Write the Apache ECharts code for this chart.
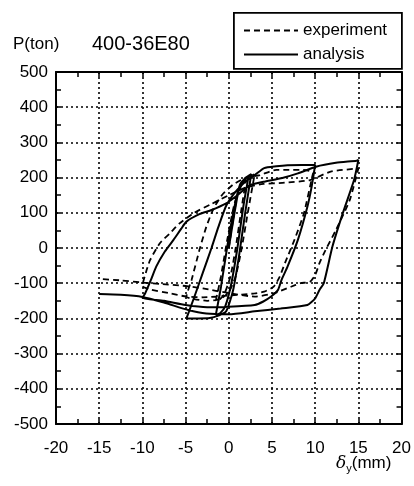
<!DOCTYPE html>
<html>
<head>
<meta charset="utf-8">
<script src="https://cdn.jsdelivr.net/npm/echarts@6/dist/echarts.min.js"></script>
<style>html,body{margin:0;padding:0;background:#fff}#c{width:414px;height:486px}</style>
</head>
<body>
<div id="c"></div>
<script>
// ---- axis ticks ----
var xTicks = [-20, -15, -10, -5, 0, 5, 10, 15, 20];
var yTicks = [-500, -400, -300, -200, -100, 0, 100, 200, 300, 400, 500];

// ---- experiment (dashed) : displacement mm / load ton ----
var expX = [0, 0.5, 1.0, 1.6, 2.0,
  1.4, 0.8, 0.2, -0.5, -1.0, -1.5,
  -0.9, -0.2, 0.6, 1.4, 2.2, 3.0,
  2.2, 1.5, 0.8, 0.0, -1.0, -2.5, -4.0, -4.9,
  -4.3, -3.4, -2.6, -1.8, -0.8, 0.5, 2.0, 3.6, 5.5, 7.0, 8.6, 9.8,
  9.7, 8.7, 7.6, 6.5, 5.9, 5.2, 4.1, 3.0, 0.0, -3.0, -4.9, -7.0, -9.0, -10.0,
  -9.6, -9.1, -8.0, -6.8, -5.7, -4.0, -2.0, 0.0, 2.0, 4.0, 6.2, 9.4, 11.8, 15.0,
  14.0, 12.4, 11.2, 10.5, 10.0, 9.4, 8.3, 7.2, 5.2, 3.0, 0.0, -3.0, -5.0, -8.0, -10.0, -12.5, -15.0];
var expY = [0, 80, 150, 185, 195,
  100, 0, -80, -130, -145, -150,
  -80, 20, 120, 180, 200, 210,
  100, 0, -80, -125, -145, -150, -145, -138,
  -90, -6, 60, 110, 150, 180, 200, 207, 222, 222, 222, 215,
  207, 99, 23, -43, -81, -110, -124, -129, -135, -140, -138, -128, -118, -108,
  -70, -34, 13, 42, 70, 100, 125, 150, 172, 182, 185, 193, 217, 226,
  136, 51, -6, -43, -77, -96, -100, -110, -129, -138, -128, -115, -108, -102, -98, -92, -88];

// ---- analysis (solid) ----
var anaX = [0, 0.6, 1.2, 1.8, 2.3,
  1.7, 1.0, 0.3, -0.4, -1.0, -1.5,
  -0.9, -0.2, 0.6, 1.3, 2.0, 2.6,
  1.9, 1.2, 0.5, -0.3, -1.2, -2.2, -3.5, -4.9,
  -4.0, -3.0, -2.0, -1.2, -0.3, 0.8, 2.0, 3.0, 4.1, 5.5, 6.8, 8.5, 10.0,
  9.6, 9.1, 8.0, 6.8, 6.1, 5.7, 4.9, 4.0, 3.0, 0.0, -2.5, -5.0, -7.5, -10.0,
  -9.7, -9.0, -8.4, -7.4, -6.4, -5.5, -4.9, -3.4, -2.0, -0.3, 1.0, 2.4, 4.0, 6.2, 8.0, 10.1, 12.4, 14.8, 15.0,
  14.5, 13.2, 12.0, 11.0, 10.5, 10.0, 9.1, 6.0, 3.0, 0.0, -2.6, -4.7, -7.5, -10.0, -12.5, -15.0];
var anaY = [0, 90, 170, 195, 205,
  120, 0, -100, -165, -185, -190,
  -110, 0, 110, 180, 200, 210,
  100, -20, -120, -180, -192, -199, -200, -200,
  -140, -70, 0, 60, 120, 160, 190, 207, 227, 232, 235, 236, 236,
  175, 117, 23, -53, -91, -119, -138, -152, -162, -167, -168, -162, -150, -142,
  -130, -90, -53, -10, 23, 55, 75, 96, 108, 127, 150, 178, 188, 199, 212, 231, 242, 248, 250,
  193, 99, 4, -100, -119, -143, -162, -172, -180, -188, -186, -176, -155, -139, -133, -131];

function pairs(xs, ys) { return xs.map(function (x, i) { return [x, ys[i]]; }); }

var chart = echarts.init(document.getElementById('c'), null, { renderer: 'canvas' });
var FONT = 'Liberation Sans, Arial, Helvetica, sans-serif';
var axisLine = { show: true, onZero: false, lineStyle: { color: '#000', width: 2 } };
var dotted = { show: true, lineStyle: { color: '#000', width: 1.6, type: [2, 3] } };
var tick = { show: true, inside: true, length: 5, lineStyle: { color: '#000', width: 1.5 } };
var minor = { show: true, splitNumber: 2, length: 5, lineStyle: { color: '#000', width: 1.5 } };

chart.setOption({
  animation: false,
  backgroundColor: '#fff',
  grid: { left: 56, top: 72, width: 346, height: 352, show: false },
  xAxis: [{
    type: 'value', min: xTicks[0], max: xTicks[xTicks.length - 1], interval: 5,
    axisLine: axisLine, axisTick: tick, minorTick: minor, splitLine: dotted,
    axisLabel: { color: '#000', fontSize: 17, fontFamily: FONT, margin: 16,
      formatter: function (v) { return xTicks.indexOf(v) >= 0 ? String(v) : ''; } }
  }, {
    type: 'value', position: 'top', min: -20, max: 20, interval: 5,
    axisLine: axisLine, axisTick: tick, minorTick: minor,
    splitLine: { show: false }, axisLabel: { show: false }
  }],
  yAxis: [{
    type: 'value', min: yTicks[0], max: yTicks[yTicks.length - 1], interval: 100,
    axisLine: axisLine, axisTick: tick, minorTick: minor, splitLine: dotted,
    axisLabel: { color: '#000', fontSize: 17, fontFamily: FONT, margin: 8,
      formatter: function (v) { return yTicks.indexOf(v) >= 0 ? String(v) : ''; } }
  }, {
    type: 'value', position: 'right', min: -500, max: 500, interval: 100,
    axisLine: axisLine, axisTick: tick, minorTick: minor,
    splitLine: { show: false }, axisLabel: { show: false }
  }],
  legend: {
    show: true, orient: 'vertical', left: 238, top: 17, itemWidth: 54, itemHeight: 12, itemGap: 7,
    z: 20,
    itemStyle: { opacity: 0 },
    data: ['experiment', 'analysis'],
    textStyle: { color: '#000', fontSize: 17, fontFamily: FONT }
  },
  graphic: [
    { type: 'rect', left: 233, top: 12, z: 1, shape: { width: 168, height: 56 },
      style: { fill: 'transparent', stroke: '#000', lineWidth: 1.8 } },
    { type: 'text', left: 13, top: 36, style: { text: 'P(ton)', fontSize: 17, fontFamily: FONT, fill: '#000' } },
    { type: 'text', left: 92, top: 34, style: { text: '400-36E80', fontSize: 20, fontFamily: FONT, fill: '#000' } },
    { type: 'text', left: 336, top: 455, style: {
        rich: { d: { fontSize: 17, fontStyle: 'italic', fontFamily: 'DejaVu Serif, serif', fill: '#000' },
                s: { fontSize: 11, fontFamily: FONT, fill: '#000', padding: [10, 0, 0, 0] },
                m: { fontSize: 17, fontFamily: FONT, fill: '#000' } },
        text: '{d|δ}{s|y}{m|(mm)}' } }
  ],
  series: [{
    name: 'experiment', type: 'line', data: pairs(expX, expY), showSymbol: false, symbol: 'none',
    smooth: 0.2, lineStyle: { color: '#000', width: 1.8, type: [6, 4] }, itemStyle: { color: '#000' }, z: 5
  }, {
    name: 'analysis', type: 'line', data: pairs(anaX, anaY), showSymbol: false, symbol: 'none',
    smooth: 0.2, lineStyle: { color: '#000', width: 2 }, itemStyle: { color: '#000' }, z: 6
  }]
});
</script>
</body>
</html>
